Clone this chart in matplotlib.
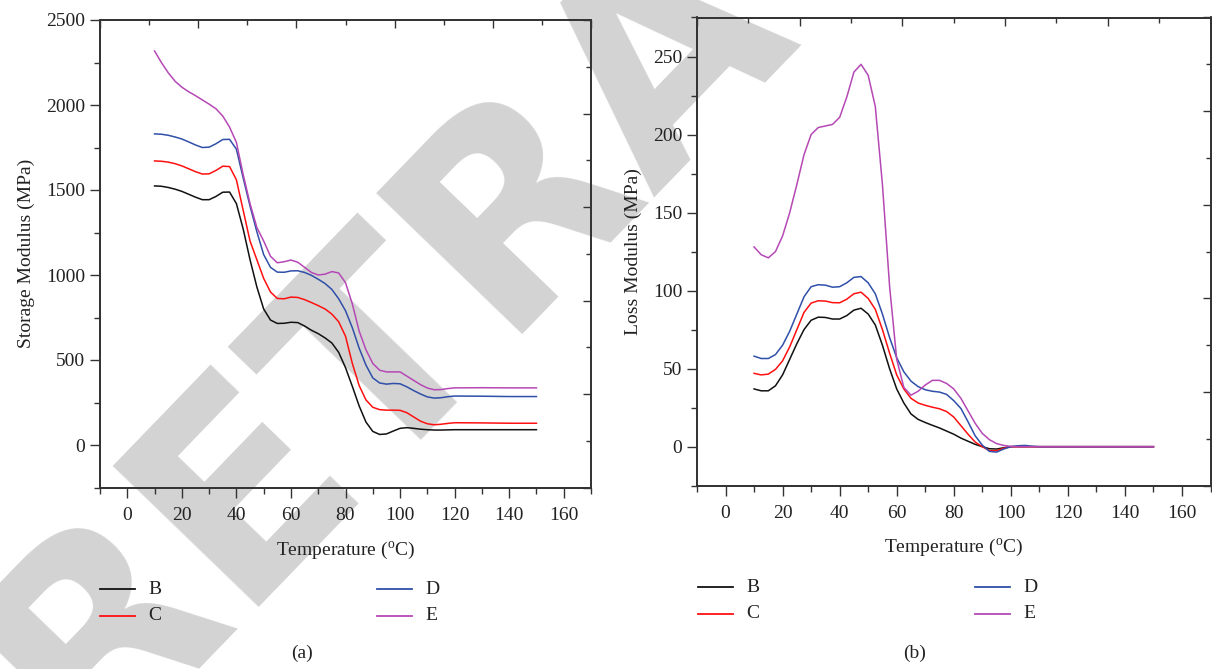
import matplotlib
matplotlib.use("Agg")
import matplotlib.pyplot as plt
from matplotlib.ticker import MultipleLocator
from matplotlib.lines import Line2D

plt.rcParams['font.family'] = ['Liberation Serif', 'DejaVu Serif']
plt.rcParams['mathtext.fontset'] = 'custom'
plt.rcParams['mathtext.rm'] = 'Liberation Serif'

# Temperature grid (°C)
temp = [10, 12.5, 15, 17.5, 20, 22.5, 25, 27.5, 30, 32.5, 35, 37.5, 40, 42.5, 45,
        47.5, 50, 52.5, 55, 57.5, 60, 62.5, 65, 67.5, 70, 72.5, 75, 77.5, 80,
        82.5, 85, 87.5, 90, 92.5, 95, 97.5, 100, 102.5, 105, 107.5, 110, 112.5,
        115, 117.5, 120, 130, 140, 150]

# Storage modulus (MPa)
storage_B = [1524, 1522, 1515, 1505, 1492, 1475, 1458, 1443, 1443, 1462, 1487, 1488,
             1420, 1270, 1090, 930, 800, 735, 715, 716, 722, 720, 700, 675, 655, 630,
             600, 545, 455, 345, 230, 135, 80, 62, 65, 82, 98, 102, 98, 93, 90, 88,
             88, 89, 90, 90, 90, 90]
storage_C = [1671, 1669, 1664, 1655, 1642, 1625, 1608, 1594, 1595, 1615, 1640, 1638,
             1560, 1380, 1200, 1090, 980, 900, 862, 860, 870, 868, 855, 838, 820, 800,
             770, 725, 640, 480, 350, 265, 222, 208, 205, 205, 204, 190, 165, 140, 125,
             119, 122, 127, 131, 130, 128, 128]
storage_D = [1830, 1828, 1822, 1812, 1800, 1783, 1765, 1750, 1752, 1772, 1797, 1798,
             1740, 1570, 1405, 1255, 1120, 1045, 1017, 1016, 1024, 1025, 1015, 998, 975,
             950, 915, 860, 790, 690, 570, 470, 395, 365, 358, 362, 360, 342, 320, 300,
             283, 276, 278, 284, 288, 287, 285, 285]
storage_E = [2318, 2250, 2190, 2140, 2105, 2078, 2055, 2030, 2005, 1978, 1935, 1870,
             1780, 1590, 1420, 1280, 1200, 1110, 1072, 1078, 1088, 1075, 1045, 1015,
             1000, 1005, 1020, 1012, 955, 830, 670, 560, 480, 440, 430, 430, 430, 405,
             380, 355, 335, 325, 326, 332, 336, 337, 336, 336]

# Loss modulus (MPa)
loss_B = [37, 35.8, 35.8, 39, 46, 56, 66, 75, 81, 83, 82.8, 81.8, 81.8, 84, 87.5, 88.7,
          85, 78, 65, 50, 37, 28, 21, 17.5, 15.5, 13.7, 12, 10, 8, 5.5, 3.5, 1.5, 0,
          -1.3, -1.5, -0.7, 0, 0, 0, 0, 0, 0, 0, 0, 0, 0, 0, 0]
loss_C = [47, 46, 46.5, 49.5, 55, 64, 75, 86, 92, 93.5, 93.3, 92.3, 92.2, 94.5, 98, 99,
          95, 88, 75, 60, 46, 37, 31, 28, 26.5, 25.3, 24.3, 22.5, 19, 13.5, 8, 3, 0,
          -2.5, -2.5, -1, 0, 0, 0, 0, 0, 0, 0, 0, 0, 0, 0, 0]
loss_D = [58, 56.5, 56.5, 59, 65, 74, 85, 96, 102.5, 103.8, 103.5, 102.2, 102.5, 105,
          108.5, 109, 105, 98, 85, 70, 57, 48, 42, 38.5, 36.5, 35.5, 35, 33.5, 29.5,
          24.5, 16, 7, 1, -3, -3.5, -1.5, 0, 0.6, 0.8, 0.3, 0, 0, 0, 0, 0, 0, 0, 0]
loss_E = [128, 123, 121, 125, 135, 150, 168, 187, 200, 204.5, 205.5, 206.5, 211, 224,
          240, 245, 238, 218, 168, 103, 56, 38, 33, 35.5, 39.5, 42.5, 42.5, 40.5, 37,
          31, 23, 15, 8.5, 4.5, 2, 0.8, 0.2, 0, 0, 0, 0, 0, 0, 0, 0, 0, 0, 0]

series_names = ['B', 'C', 'D', 'E']
series_colors = ['#111111', '#ff1010', '#2f4fa8', '#b548b5']

FIG_W, FIG_H = 1212, 669
fig = plt.figure(figsize=(FIG_W / 100, FIG_H / 100), dpi=100)


def frac_rect(left, top, right, bottom):
    return [left / FIG_W, 1 - bottom / FIG_H, (right - left) / FIG_W, (bottom - top) / FIG_H]


# Diagonal watermark behind the panels
fig.text(668 / FIG_W, 1 - 46 / FIG_H, 'RETRACTED', rotation=46, rotation_mode='anchor',
         ha='center', va='center', fontsize=200, fontweight='bold',
         family='DejaVu Sans', color='#d3d3d3', zorder=-5)

spine_color = '#333333'
tick_font = 14


def style_panel(ax, ylim, ymajor, yminor):
    ax.set_facecolor('none')
    ax.set_xlim(-10, 170)
    ax.set_ylim(*ylim)
    ax.xaxis.set_major_locator(MultipleLocator(20))
    ax.xaxis.set_minor_locator(MultipleLocator(10))
    ax.yaxis.set_major_locator(MultipleLocator(ymajor))
    ax.yaxis.set_minor_locator(MultipleLocator(yminor))
    for s in ax.spines.values():
        s.set_color(spine_color)
        s.set_linewidth(1.1)
    ax.tick_params(which='both', direction='out', top=False, right=False,
                   color=spine_color, width=1.0, labelsize=tick_font, labelcolor='#222222')
    ax.tick_params(which='major', length=7)
    ax.tick_params(which='minor', length=4.5)
    ax.tick_params(axis='x', which='major', pad=7)

    # independent inward tick rows on the top and right frame
    top = ax.twiny()
    top.set_xlim(0, 1)
    top.xaxis.set_major_locator(MultipleLocator(0.2))
    top.xaxis.set_minor_locator(MultipleLocator(0.1))
    top.tick_params(which='both', direction='in', labeltop=False, color=spine_color, width=1.0)
    top.tick_params(which='major', length=6)
    top.tick_params(which='minor', length=3.5)
    right = ax.twinx()
    right.set_ylim(0, 1)
    right.yaxis.set_major_locator(MultipleLocator(0.2))
    right.yaxis.set_minor_locator(MultipleLocator(0.1))
    right.tick_params(which='both', direction='in', labelright=False, color=spine_color, width=1.0)
    right.tick_params(which='major', length=6)
    right.tick_params(which='minor', length=3.5)
    for extra in (top, right):
        extra.set_facecolor('none')
        for s in extra.spines.values():
            s.set_color(spine_color)
            s.set_linewidth(1.1)


def legend_rows(x_line, x_line2, y_rows, handles_order):
    # two-column key: B, C on the left; D, E on the right
    positions = [(x_line, y_rows[0]), (x_line, y_rows[1]),
                 (x_line2, y_rows[0]), (x_line2, y_rows[1])]
    for (xl, yr), (name, color) in zip(positions, handles_order):
        fig.add_artist(Line2D([xl / FIG_W, (xl + 35) / FIG_W],
                              [1 - yr / FIG_H, 1 - yr / FIG_H],
                              color=color, lw=1.3, transform=fig.transFigure))
        fig.text((xl + 48) / FIG_W, 1 - yr / FIG_H, name, fontsize=tick_font,
                 ha='left', va='center', color='#222222')


# Panel (a): storage modulus
ax_a = fig.add_axes(frac_rect(100, 20, 591, 487.5))
style_panel(ax_a, (-250, 2500), 500, 250)
for name, vals, color in zip(series_names, [storage_B, storage_C, storage_D, storage_E],
                             series_colors):
    ax_a.plot(temp, vals, color=color, lw=1.1, label=name)
ax_a.set_xlabel(r'Temperature ($^{\mathrm{o}}$C)', fontsize=tick_font, labelpad=11, color='#222222')
ax_a.set_ylabel('Storage Modulus (MPa)', fontsize=tick_font, labelpad=8, color='#222222')

# Panel (b): loss modulus
ax_b = fig.add_axes(frac_rect(697, 17.5, 1210.5, 485.7))
style_panel(ax_b, (-25, 275), 50, 25)
for name, vals, color in zip(series_names, [loss_B, loss_C, loss_D, loss_E], series_colors):
    ax_b.plot(temp, vals, color=color, lw=1.1, label=name)
ax_b.set_xlabel(r'Temperature ($^{\mathrm{o}}$C)', fontsize=tick_font, labelpad=10, color='#222222')
ax_b.set_ylabel('Loss Modulus (MPa)', fontsize=tick_font, labelpad=8, color='#222222')

pairs = list(zip(series_names, series_colors))
legend_rows(100, 377, (589, 616), pairs)
legend_rows(698, 975, (587, 614), pairs)

fig.text(302 / FIG_W, 1 - 653 / FIG_H, '(a)', fontsize=tick_font, ha='center', va='center',
         color='#222222')
fig.text(915 / FIG_W, 1 - 653 / FIG_H, '(b)', fontsize=tick_font, ha='center', va='center',
         color='#222222')

fig.savefig('out.png', dpi=100)
